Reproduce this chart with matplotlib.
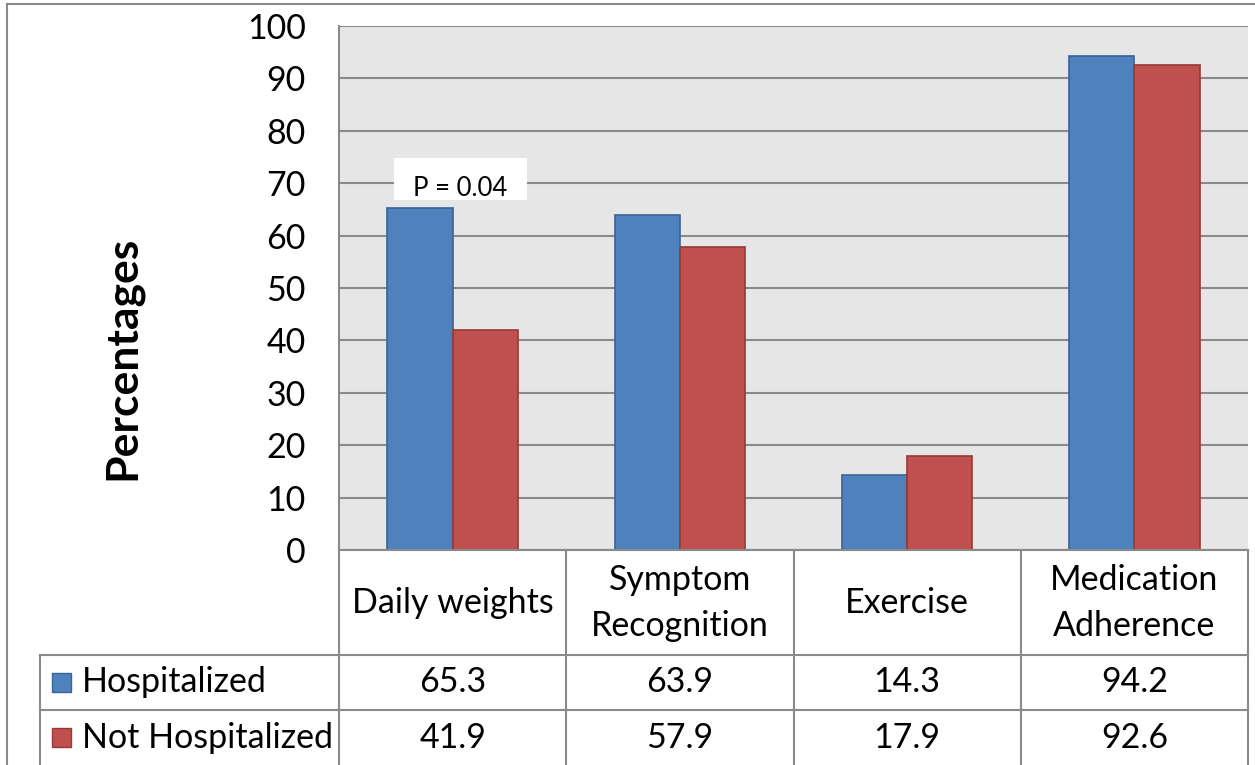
import matplotlib.pyplot as plt
from matplotlib.patches import Rectangle
from matplotlib.lines import Line2D
import numpy as np

plt.rcParams['font.family'] = ['Lato', 'DejaVu Sans']

categories = ['Daily weights', 'Symptom\nRecognition', 'Exercise', 'Medication\nAdherence']
series_names = ['Hospitalized', 'Not Hospitalized']
hospitalized = [65.3, 63.9, 14.3, 94.2]
not_hospitalized = [41.9, 57.9, 17.9, 92.6]
y_ticks = [0, 10, 20, 30, 40, 50, 60, 70, 80, 90, 100]

blue, blue_edge = '#4F81BD', '#3A6496'
red, red_edge = '#C0504D', '#943A37'
grid_col = '#8A8A8A'
W, H = 1255, 765
fs = 24.5

fig = plt.figure(figsize=(W / 100, H / 100), dpi=100)

# plot area, positioned in pixels
px_l, px_r, px_t, px_b = 339, 1248, 26, 550
ax = fig.add_axes([px_l / W, 1 - px_b / H, (px_r - px_l) / W, (px_b - px_t) / H])
ax.set_facecolor('#E6E6E6')
x = np.arange(len(categories))
bw = 0.287
ax.bar(x - bw / 2, hospitalized, bw, color=blue, edgecolor=blue_edge, linewidth=1.2, zorder=3)
ax.bar(x + bw / 2, not_hospitalized, bw, color=red, edgecolor=red_edge, linewidth=1.2, zorder=3)
ax.set_xlim(-0.5, len(categories) - 0.5)
ax.set_ylim(0, 100)
ax.set_yticks(y_ticks)
ax.set_xticks([])
ax.yaxis.grid(True, color=grid_col, linewidth=1.5, zorder=0)
ax.set_axisbelow(True)
ax.tick_params(axis='y', length=0, pad=24, labelsize=fs)
for s in ['right', 'top', 'bottom']:
    ax.spines[s].set_visible(False)
ax.spines['left'].set_color(grid_col)
ax.spines['left'].set_linewidth(1.5)

# p-value label
ax.add_patch(Rectangle((-0.258, 66.8), 0.585, 8.0, facecolor='white', edgecolor='none', zorder=4))
ax.text(0.035, 67.6, 'P = 0.04', ha='center', va='baseline', fontsize=18.5, zorder=5)

fig.text(122 / W, 1 - 358 / H, 'Percentages', rotation=90, ha='center', va='center',
         fontsize=32, fontweight='bold')

# data table below the plot
tax = fig.add_axes([px_l / W, 0, (px_r - px_l) / W, 1 - px_b / H])
tax.set_xlim(-0.5, len(categories) - 0.5)
tax.set_ylim(215, 0)
tax.axis('off')
unit = (px_r - px_l) / len(categories)
lab_left = -0.5 - (px_l - 40) / unit
row_y = [0, 105, 160, 215]
lkw = dict(color=grid_col, linewidth=1.5, clip_on=False)
tax.add_line(Line2D([-0.5, len(categories) - 0.5], [0, 0], **lkw))
for yy in row_y[1:3]:
    tax.add_line(Line2D([lab_left, len(categories) - 0.5], [yy, yy], **lkw))
for i in range(len(categories) + 1):
    tax.add_line(Line2D([i - 0.5, i - 0.5], [0, 215], **lkw))
tax.add_line(Line2D([lab_left, lab_left], [105, 215], **lkw))

for i, c in enumerate(categories):
    tax.text(i, 53, c, ha='center', va='center', fontsize=fs, linespacing=1.5)
rows = [hospitalized, not_hospitalized]
fills = [(blue, blue_edge), (red, red_edge)]
key_w = 19 / unit
for r, (vals, name, (fc, ec)) in enumerate(zip(rows, series_names, fills)):
    yc = (row_y[r + 1] + row_y[r + 2]) / 2
    tax.add_patch(Rectangle((lab_left + 12 / unit, yc - 9.5), key_w, 19, facecolor=fc,
                            edgecolor=ec, linewidth=1, clip_on=False))
    tax.text(lab_left + 42 / unit, yc, name, ha='left', va='center', fontsize=fs)
    for i, v in enumerate(vals):
        tax.text(i, yc, f'{v:.1f}', ha='center', va='center', fontsize=fs)

# outer chart border (top and left visible)
fig.add_artist(Line2D([7 / W, 1], [1 - 4 / H, 1 - 4 / H], color=grid_col, linewidth=1.5))
fig.add_artist(Line2D([7 / W, 7 / W], [0, 1 - 4 / H], color=grid_col, linewidth=1.5))

fig.savefig('out.png', dpi=100)
